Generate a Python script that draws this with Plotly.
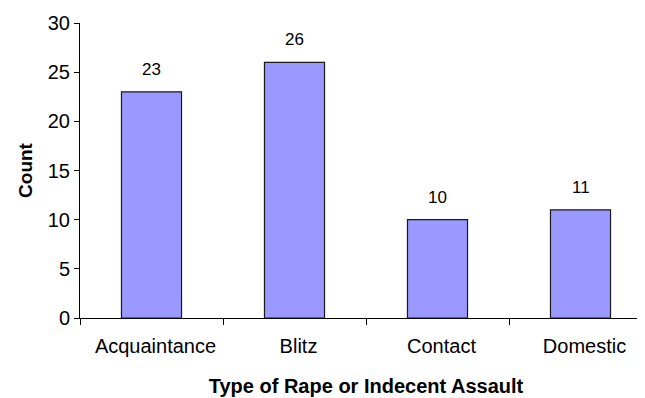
import plotly.graph_objects as go

categories = ["Acquaintance", "Blitz", "Contact", "Domestic"]
counts = [23, 26, 10, 11]
y_ticks = [0, 5, 10, 15, 20, 25, 30]

FONT = "Liberation Sans, Arial, sans-serif"

fig = go.Figure()
fig.add_trace(go.Bar(
    x=categories, y=counts,
    marker=dict(color="#9999FF", line=dict(color="#1a1a1a", width=1.2)),
    hoverinfo="skip",
))

for c, v in zip(categories, counts):
    fig.add_annotation(x=c, y=v, text=str(v), showarrow=False,
                       yanchor="bottom", yshift=11,
                       font=dict(family=FONT, size=17, color="black"))

fig.update_layout(
    width=645, height=398,
    margin=dict(l=72, r=1, t=15, b=88, autoexpand=False),
    paper_bgcolor="white", plot_bgcolor="white",
    bargap=0.58,
    showlegend=False,
    font=dict(family=FONT, color="black"),
)
fig.update_xaxes(
    type="category", automargin=False,
    showline=True, linecolor="black", linewidth=1,
    ticks="outside", tickson="boundaries", ticklen=6, tickcolor="black",
    tickfont=dict(size=20, family=FONT),
    ticklabelstandoff=10, ticklabelshift=4,
    showgrid=False, zeroline=False,
    title=dict(text="<b>Type of Rape or Indecent Assault</b>",
               font=dict(size=20, family=FONT), standoff=22),
)
fig.update_yaxes(
    range=[0, 30], tickvals=y_ticks, automargin=False,
    showline=True, linecolor="black", linewidth=1,
    ticks="outside", ticklen=5, tickcolor="black",
    tickfont=dict(size=20, family=FONT),
    showgrid=False, zeroline=False,
    title=dict(text="<b>Count</b>", font=dict(size=19, family=FONT), standoff=10),
)

fig.write_html("out.html")
